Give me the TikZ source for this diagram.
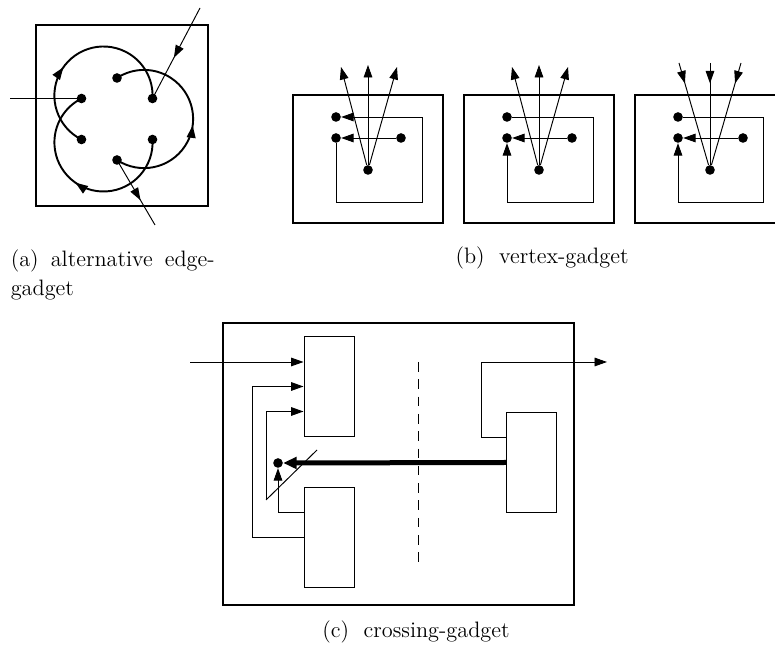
\documentclass[tikz,border=0pt]{standalone}
\usepackage{amssymb,amsmath}
\usepackage{tikz}
\usetikzlibrary{arrows.meta,decorations.markings}

\tikzset{
  frame/.style={line width=1.5pt},
  wire/.style={line width=0.5pt},
  loopline/.style={line width=1pt},
  dot/.style={circle,fill=black,inner sep=0pt,minimum size=5pt},
  tip/.style={-{Triangle[length=6.5pt,width=4.5pt]}},
  midtip/.style={postaction={decorate},decoration={markings,mark=at position #1 with {\arrow{Triangle[length=6.5pt,width=4.5pt]}}}},
  gate/.style={draw,line width=0.5pt,minimum width=26pt,minimum height=52.5pt,inner sep=0pt},
  subcap/.style={font=\fontsize{11.6}{15}\selectfont},
}

\begin{document}
\begin{tikzpicture}[x=0.52pt,y=-0.52pt]
    \useasboundingbox (0,0) rectangle (775,648);

          % (a) alternative edge-gadget
          \draw[frame] (36,25) rectangle (208,206);
          \begin{scope}[shift={(117,119)},yscale=-1]
            \node[dot] (aT) at (90:41) {};
            \node[dot] (aUR) at (30:41) {};
            \node[dot] (aLR) at (-30:41) {};
            \node[dot] (aB) at (-90:41) {};
            \node[dot] (aLL) at (210:41) {};
            \node[dot] (aUL) at (150:41) {};
            \coordinate (aIn) at (-107,20.5);
            \coordinate (aTop) at (83,111);
            \coordinate (aOut) at (38,-106);

            \draw[loopline,midtip=0.4] (aLL.center) arc[start angle=243.4,end angle=-3.4,radius=49.1];
            \draw[loopline,midtip=0.47] (aB.center) arc[start angle=236.6,end angle=483.4,radius=49.1];
            \draw[loopline,midtip=0.52] (aLR.center) arc[start angle=3.4,end angle=-243.4,radius=49.1];

            \draw[wire] (aIn) -- (aUL.center);
            \draw[wire,midtip=0.55] (aTop) -- (aUR.center);
            \draw[wire,midtip=0.62] (aB.center) -- (aOut);
          \end{scope}
          \node[subcap,anchor=north west,align=left] (capa) at (4,243)
            {\makebox[106pt][s]{(a) alternative edge-}\\gadget};

          % (b) vertex-gadget, first box
          \draw[frame] (293,95) rectangle (443,223);
          \node[dot] (b1u) at (336,117) {};
          \node[dot] (b1l) at (336,138) {};
          \node[dot] (b1r) at (401,138) {};
          \node[dot] (b1c) at (368,170) {};
          \coordinate (b1k) at (422,202);
          \coordinate (b1o1) at (341,67);
          \coordinate (b1o2) at (368,65);
          \coordinate (b1o3) at (397,67);
          \draw[wire,tip] (b1l) |- (b1k) |- (b1u);
          \draw[wire,tip] (b1r) -- (b1l);
          \draw[wire,tip] (b1c) -- (b1o1);
          \draw[wire,tip] (b1c) -- (b1o2);
          \draw[wire,tip] (b1c) -- (b1o3);

          % second box
          \draw[frame] (464,95) rectangle (614,223);
          \node[dot] (b2u) at (507,117) {};
          \node[dot] (b2l) at (507,138) {};
          \node[dot] (b2r) at (572,138) {};
          \node[dot] (b2c) at (539,170) {};
          \coordinate (b2k) at (593,202);
          \coordinate (b2o1) at (512,67);
          \coordinate (b2o2) at (539,65);
          \coordinate (b2o3) at (568,67);
          \draw[wire,tip] (b2u) -| (b2k) -| (b2l);
          \draw[wire,tip] (b2r) -- (b2l);
          \draw[wire,tip] (b2c) -- (b2o1);
          \draw[wire,tip] (b2c) -- (b2o2);
          \draw[wire,tip] (b2c) -- (b2o3);

          % third box
          \draw[frame] (775,95) -- (635,95) -- (635,223) -- (775,223);
          \node[dot] (b3u) at (678,117) {};
          \node[dot] (b3l) at (678,138) {};
          \node[dot] (b3r) at (743,138) {};
          \node[dot] (b3c) at (710,170) {};
          \coordinate (b3k) at (763,202);
          \coordinate (b3i1) at (679,63);
          \coordinate (b3i2) at (710,63);
          \coordinate (b3i3) at (741,63);
          \draw[wire,tip] (b3u) -| (b3k) -| (b3l);
          \draw[wire,tip] (b3r) -- (b3l);
          \draw[wire,midtip=0.2] (b3i1) -- (b3c);
          \draw[wire,midtip=0.2] (b3i2) -- (b3c);
          \draw[wire,midtip=0.2] (b3i3) -- (b3c);

          \node[subcap] (capb) at (542,258) {(b)\ \ vertex-gadget};

          % (c) crossing-gadget
          \draw[frame] (223,323) rectangle (574,605);
          \node[gate] (cu) at (329,386.5) {};
          \node[gate] (cd) at (329,537.5) {};
          \node[gate] (cr) at (531.5,462.5) {};
          \node[dot] (cx) at (278,463) {};
          \coordinate (cin) at (190,362);
          \coordinate (cout) at (607,362);
          \coordinate (cor1) at (266,500);
          \coordinate (cor2) at (317,450);

          \draw[wire,dash pattern=on 5pt off 4pt] (418,362) -- (418,563);
          \draw[wire,tip] (cin) -- (cin -| cu.west);
          \draw[wire,tip] (cd.west) -- ++(-51,0) |- (cu.west);
          \draw[wire,tip] (cor1) |- ([yshift=-13pt]cu.west);
          \draw[wire] (cor1) -- (cor2);
          \draw[wire,tip] ([yshift=13pt]cd.west) -| (cx);
          \draw[line width=2.6pt,-{Triangle[length=7pt,width=6pt]}] (cr.west) -- (cx);
          \draw[wire,tip] ([yshift=13pt]cr.west) -- ++(-25,0) |- (cout);

          \node[subcap] (capc) at (416,632) {(c)\ \ crossing-gadget};

        \end{tikzpicture}
\end{document}
